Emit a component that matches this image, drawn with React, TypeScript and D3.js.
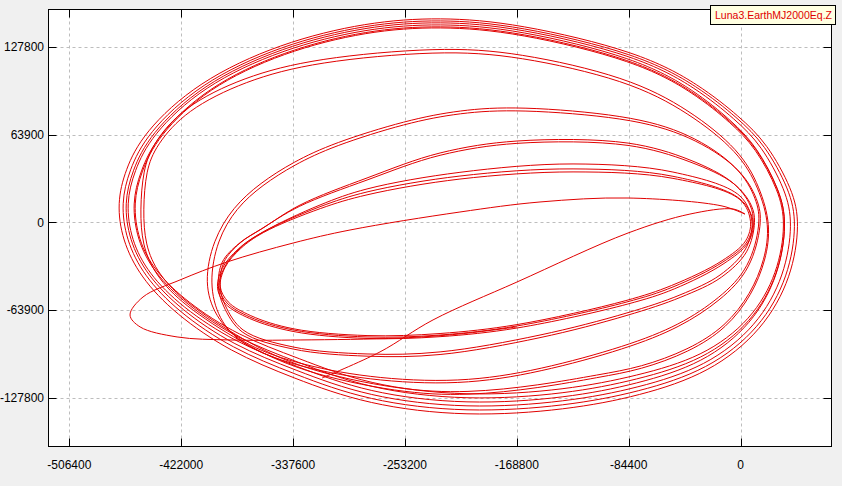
import { useEffect, useRef } from "react";
import * as d3 from "d3";

// points are [EarthMJ2000Eq.Y, EarthMJ2000Eq.Z] in thousands of km
type Pt = [number, number];

const xTicks = [-506400, -422000, -337600, -253200, -168800, -84400, 0];
const yTicks = [-127800, -63900, 0, 63900, 127800];
const legendLabel = "Luna3.EarthMJ2000Eq.Z";

// outer family of orbits
const outer1: Pt[] = [
  [-470.4, 14.1], [-466.6, -12.9], [-453.0, -39.8], [-426.6, -66.8], [-385.1, -94.4], [-337.6, -113.4],
  [-281.8, -133.0], [-206.4, -141.8], [-130.9, -136.7], [-75.9, -126.5], [-23.1, -109.7], [16.9, -78.4],
  [38.8, -39.8], [44.8, -0.5], [39.5, 23.5], [19.9, 57.7], [-0.5, 76.7], [-30.6, 100.0],
  [-75.9, 124.0], [-168.7, 145.1], [-226.7, 149.5], [-281.8, 145.9], [-347.4, 130.6], [-410.0, 102.2],
  [-450.8, 65.0], [-464.3, 38.1],
];
const outer2: Pt[] = [
  [-467.4, 14.1], [-463.6, -12.9], [-450.3, -38.9], [-424.5, -65.1], [-383.6, -92.1], [-336.7, -110.5],
  [-281.8, -130.1], [-206.4, -138.9], [-130.9, -133.8], [-76.4, -123.6], [-24.3, -107.4], [15.1, -77.0],
  [36.5, -39.2], [42.5, -0.5], [37.2, 23.4], [18.1, 57.0], [-1.9, 75.7], [-31.5, 98.7],
  [-76.4, 122.5], [-168.7, 143.6], [-226.7, 148.0], [-281.8, 144.4], [-346.8, 129.1], [-408.2, 101.2],
  [-448.1, 64.4], [-461.3, 37.8],
];
const outer3: Pt[] = [
  [-465.1, 14.1], [-461.3, -12.9], [-448.2, -38.1], [-422.9, -63.3], [-382.5, -89.8], [-336.0, -107.6],
  [-281.8, -127.2], [-206.4, -136.0], [-130.9, -130.9], [-77.0, -120.7], [-25.8, -105.1], [12.7, -75.5],
  [33.5, -38.6], [39.5, -0.5], [34.2, 23.2], [15.7, 56.3], [-3.7, 74.7], [-32.7, 97.4],
  [-77.0, 121.1], [-168.7, 142.2], [-226.7, 146.6], [-281.8, 143.0], [-346.3, 127.7], [-406.8, 100.2],
  [-446.0, 63.8], [-459.0, 37.5],
];
const outer4: Pt[] = [
  [-463.6, 14.1], [-459.8, -12.9], [-446.9, -37.2], [-421.8, -61.6], [-381.7, -87.4], [-335.6, -104.7],
  [-281.8, -124.3], [-206.4, -133.1], [-130.9, -128.0], [-77.9, -117.8], [-28.0, -102.7], [9.1, -74.1],
  [29.0, -38.1], [35.0, -0.5], [29.7, 23.1], [12.1, 55.5], [-6.4, 73.6], [-34.5, 96.0],
  [-77.9, 119.6], [-168.7, 140.7], [-226.7, 145.1], [-281.8, 141.5], [-346.0, 126.2], [-405.9, 99.1],
  [-444.7, 63.2], [-457.5, 37.2],
];
const outer5: Pt[] = [
  [-459.1, 14.1], [-455.3, -12.9], [-442.8, -36.3], [-418.7, -59.8], [-379.5, -85.0], [-334.2, -101.7],
  [-281.8, -121.3], [-206.4, -130.1], [-130.9, -125.0], [-77.9, -114.8], [-28.0, -100.3], [9.1, -72.6],
  [29.0, -37.5], [35.0, -0.5], [29.7, 22.9], [12.1, 54.8], [-6.4, 72.6], [-34.5, 94.8],
  [-77.9, 118.2], [-168.7, 139.3], [-226.7, 143.7], [-281.8, 140.1], [-345.1, 124.8], [-403.2, 98.1],
  [-440.6, 62.7], [-453.0, 36.9],
];
const outer6: Pt[] = [
  [-458.3, 14.1], [-454.5, -12.9], [-442.1, -35.4], [-418.1, -58.0], [-379.1, -82.7], [-334.0, -98.8],
  [-281.8, -118.4], [-206.4, -127.2], [-130.9, -122.1], [-78.0, -111.9], [-28.4, -98.0], [8.4, -71.1],
  [28.2, -36.9], [34.2, -0.5], [28.9, 22.8], [11.4, 54.4], [-6.9, 72.1], [-34.8, 94.1],
  [-78.0, 117.4], [-168.7, 138.5], [-226.7, 142.9], [-281.8, 139.3], [-345.0, 124.0], [-402.7, 97.6],
  [-439.9, 62.4], [-452.2, 36.8],
];
const outer7a: Pt[] = [
  [-453.0, 9.0], [-451.5, -16.5], [-441.7, -38.4], [-420.6, -60.2], [-377.6, -87.2], [-332.3, -109.0],
  [-256.9, -124.3], [-206.4, -126.5], [-151.3, -120.7], [-106.1, -112.7], [-75.9, -107.6], [-38.2, -94.4],
  [-10.3, -77.0], [8.6, -52.9], [19.2, -27.5], [22.9, -2.0], [14.6, 25.7], [-0.5, 52.6],
  [-38.2, 81.8], [-84.9, 105.8], [-168.7, 124.0], [-226.7, 127.7], [-321.0, 119.6], [-375.3, 105.8],
  [-420.6, 84.0], [-443.2, 57.7], [-450.8, 38.1],
];
const outer7b: Pt[] = [
  [-450.8, 9.0], [-449.3, -16.5], [-439.7, -37.6], [-418.8, -58.6], [-376.2, -85.4], [-331.3, -107.2],
  [-256.9, -122.3], [-206.4, -124.5], [-151.3, -118.7], [-106.1, -110.8], [-75.9, -105.8], [-38.9, -92.8],
  [-11.0, -75.6], [7.8, -52.0], [18.4, -27.0], [22.1, -2.0], [13.8, 25.0], [-1.3, 51.2],
  [-38.9, 79.8], [-84.9, 103.4], [-168.7, 121.5], [-226.7, 125.2], [-321.0, 117.0], [-374.0, 103.0],
  [-418.6, 81.5], [-441.0, 56.0], [-448.6, 37.8],
];

// middle orbits
const middle2a: Pt[] = [
  [15.4, 0.2], [7.1, -33.3], [-15.5, -55.1], [-45.7, -74.8], [-85.7, -90.1], [-151.3, -107.6],
  [-211.7, -117.0], [-281.8, -113.4], [-337.6, -102.5], [-377.6, -87.9], [-396.5, -69.0], [-404.8, -44.2],
  [-398.0, -12.9], [-382.9, 11.1], [-362.5, 28.6], [-337.6, 43.9], [-307.5, 57.7], [-251.6, 74.5],
  [-211.7, 81.8], [-168.7, 84.7], [-84.9, 78.1], [-38.2, 65.0], [-0.5, 40.3], [12.4, 16.2],
];
const middle2b: Pt[] = [
  [16.5, 0.2], [8.0, -34.5], [-15.0, -57.0], [-45.5, -76.5], [-85.7, -92.0], [-151.3, -109.4],
  [-211.7, -118.8], [-281.8, -115.2], [-337.6, -104.3], [-377.0, -89.5], [-394.0, -70.5], [-401.0, -44.5],
  [-395.0, -13.0], [-380.5, 10.5], [-361.0, 27.0], [-337.0, 41.8], [-307.5, 55.5], [-251.6, 72.5],
  [-211.7, 79.8], [-168.7, 82.5], [-84.9, 76.3], [-38.2, 63.5], [0.5, 39.5], [13.5, 16.0],
];
const middle1a: Pt[] = [
  [9.4, 0.2], [3.3, -20.2], [-15.5, -38.4], [-45.7, -52.9], [-85.7, -66.0], [-151.3, -82.1],
  [-226.7, -94.4], [-281.8, -95.9], [-337.6, -90.8], [-375.3, -78.4], [-388.9, -60.2], [-392.7, -45.7],
  [-389.7, -28.9], [-377.6, -15.1], [-360.3, -4.2], [-332.3, 12.6], [-281.8, 32.3], [-226.7, 50.5],
  [-168.7, 59.2], [-84.9, 57.7], [-38.2, 45.4], [-5.7, 28.6], [7.1, 12.6],
];
const middle1b: Pt[] = [
  [10.5, 0.0], [4.5, -21.5], [-14.5, -40.0], [-45.0, -54.5], [-85.7, -67.8], [-151.3, -84.0],
  [-226.7, -96.3], [-281.8, -97.5], [-337.6, -92.3], [-376.0, -79.8], [-390.0, -61.0], [-394.0, -46.0],
  [-391.0, -29.0], [-378.5, -15.5], [-361.5, -4.8], [-333.0, 11.5], [-281.8, 30.8], [-226.7, 48.8],
  [-168.7, 57.5], [-84.9, 56.0], [-38.2, 44.0], [-5.0, 28.0], [8.0, 12.5],
];

// inner orbits
const inner1: Pt[] = [
  [8.6, 0.2], [4.8, -14.3], [-13.3, -28.9], [-51.0, -47.1], [-85.7, -58.0], [-168.7, -75.5],
  [-226.7, -82.1], [-281.8, -83.5], [-337.6, -78.4], [-370.1, -69.0], [-387.4, -58.8], [-393.4, -47.8],
  [-389.7, -33.3], [-377.6, -18.7], [-360.3, -7.1], [-317.3, 12.6], [-281.8, 24.3], [-211.7, 36.4],
  [-126.4, 42.5], [-51.0, 36.6], [-0.5, 19.2],
];
const inner2: Pt[] = [
  [9.5, 0.0], [5.5, -15.0], [-12.5, -30.0], [-50.0, -48.5], [-85.0, -59.5], [-168.7, -77.0],
  [-226.7, -83.3], [-281.8, -84.6], [-337.6, -79.5], [-370.5, -70.0], [-388.5, -59.5], [-394.5, -48.5],
  [-391.0, -33.5], [-379.0, -19.5], [-362.0, -8.0], [-318.0, 11.1], [-281.8, 22.1], [-211.7, 33.7],
  [-126.4, 38.9], [-51.0, 33.5], [-0.5, 17.0],
];
const inner3: Pt[] = [
  [7.5, 0.5], [3.8, -13.5], [-14.0, -28.0], [-52.0, -46.0], [-86.5, -57.0], [-168.7, -74.5],
  [-226.7, -81.0], [-281.8, -82.5], [-337.6, -77.5], [-369.5, -68.0], [-386.5, -58.0], [-392.5, -47.0],
  [-389.0, -33.0], [-377.0, -19.0], [-360.0, -7.5], [-317.0, 10.0], [-281.8, 20.0], [-211.7, 31.5],
  [-126.4, 36.7], [-51.0, 32.0], [-0.5, 16.5],
];

// transfer leg: arc to perigee, then the long thin ellipse
const transfer: Pt[] = [
  [-315.7, -113.4], [-272.0, -94.4], [-232.0, -71.1], [-168.7, -43.5], [-84.9, -7.8], [-38.2, 6.0],
  [-5.7, 9.7], [3.3, 6.0], [-14.0, 11.9], [-84.9, 17.7], [-151.3, 14.8], [-211.7, 7.5],
  [-294.6, -5.6], [-337.6, -15.1], [-387.4, -28.9], [-422.9, -42.0], [-450.8, -54.4], [-460.6, -67.5],
  [-453.0, -76.2], [-425.1, -83.5], [-385.1, -85.7], [-332.3, -85.7], [-256.9, -84.3], [-211.7, -81.3],
  [-168.7, -76.2],
];

// wide loops are smoothed with a B-spline, tight ones pass through every point
const wideLoops: Pt[][] = [outer1, outer2, outer3, outer4, outer5, outer6, outer7a, outer7b, middle2a, middle2b];
const tightLoops: Pt[][] = [middle1a, middle1b, inner1, inner2, inner3];

const W = 842;
const H = 486;
const frame = { left: 48.5, top: 9.5, right: 831.5, bottom: 446.5 };
const red = "#e00000";
const font = "'Liberation Sans', Arial, sans-serif";

const App: React.FC = () => {
  const svgRef = useRef<SVGSVGElement | null>(null);

  useEffect(() => {
    if (!svgRef.current) return;
    const svg = d3.select(svgRef.current);
    svg.selectAll("*").remove();

    const x = d3.scaleLinear().domain([-522100, 68600]).range([frame.left, frame.right]);
    const y = d3.scaleLinear().domain([-163300, 155000]).range([frame.bottom, frame.top]);

    svg
      .append("rect")
      .attr("x", frame.left)
      .attr("y", frame.top)
      .attr("width", frame.right - frame.left)
      .attr("height", frame.bottom - frame.top)
      .attr("fill", "#fff");

    // dashed grid
    const grid = svg.append("g").attr("stroke", "#bdbdbd").attr("stroke-dasharray", "3,3");
    xTicks.forEach((t) => {
      const px = Math.round(x(t)) + 0.5;
      grid.append("line").attr("x1", px).attr("x2", px).attr("y1", frame.top).attr("y2", frame.bottom);
    });
    yTicks.forEach((t) => {
      const py = Math.round(y(t)) + 0.5;
      grid.append("line").attr("x1", frame.left).attr("x2", frame.right).attr("y1", py).attr("y2", py);
    });

    svg
      .append("clipPath")
      .attr("id", "plot-clip")
      .append("rect")
      .attr("x", frame.left)
      .attr("y", frame.top)
      .attr("width", frame.right - frame.left)
      .attr("height", frame.bottom - frame.top);

    const curves = svg
      .append("g")
      .attr("clip-path", "url(#plot-clip)")
      .attr("fill", "none")
      .attr("stroke", red)
      .attr("stroke-width", 1);

    const px = (d: Pt) => x(d[0] * 1000);
    const py = (d: Pt) => y(d[1] * 1000);

    const smoothLine = d3.line<Pt>().x(px).y(py).curve(d3.curveBasisClosed);
    const closedLine = d3.line<Pt>().x(px).y(py).curve(d3.curveCatmullRomClosed.alpha(0.5));
    const openLine = d3.line<Pt>().x(px).y(py).curve(d3.curveCatmullRom.alpha(0.5));

    wideLoops.forEach((loop) => {
      curves.append("path").datum(loop).attr("d", smoothLine);
    });
    tightLoops.forEach((loop) => {
      curves.append("path").datum(loop).attr("d", closedLine);
    });
    curves.append("path").datum(transfer).attr("d", openLine);

    // frame
    svg
      .append("rect")
      .attr("x", frame.left)
      .attr("y", frame.top)
      .attr("width", frame.right - frame.left)
      .attr("height", frame.bottom - frame.top)
      .attr("fill", "none")
      .attr("stroke", "#000");

    // inward ticks on all four sides
    const tickLen = 8;
    const ticks = svg.append("g").attr("stroke", "#000");
    xTicks.forEach((t) => {
      const tx = Math.round(x(t)) + 0.5;
      ticks.append("line").attr("x1", tx).attr("x2", tx).attr("y1", frame.bottom).attr("y2", frame.bottom - tickLen);
      ticks.append("line").attr("x1", tx).attr("x2", tx).attr("y1", frame.top).attr("y2", frame.top + tickLen);
    });
    yTicks.forEach((t) => {
      const ty = Math.round(y(t)) + 0.5;
      ticks.append("line").attr("x1", frame.left).attr("x2", frame.left + tickLen).attr("y1", ty).attr("y2", ty);
      ticks.append("line").attr("x1", frame.right).attr("x2", frame.right - tickLen).attr("y1", ty).attr("y2", ty);
    });

    // tick labels
    const labels = svg.append("g").attr("font-family", font).attr("font-size", 12).attr("fill", "#000");
    xTicks.forEach((t) => {
      labels
        .append("text")
        .attr("x", x(t))
        .attr("y", 469)
        .attr("text-anchor", "middle")
        .text(String(t));
    });
    yTicks.forEach((t) => {
      labels
        .append("text")
        .attr("x", 44)
        .attr("y", y(t))
        .attr("dy", "0.35em")
        .attr("text-anchor", "end")
        .text(String(t));
    });

    // legend
    const legend = svg.append("g");
    legend
      .append("rect")
      .attr("x", 710.5)
      .attr("y", 5.5)
      .attr("width", 125)
      .attr("height", 19)
      .attr("fill", "#ffffe1")
      .attr("stroke", "#000");
    legend
      .append("text")
      .attr("x", 715)
      .attr("y", 19.3)
      .attr("font-family", font)
      .attr("font-size", 11)
      .attr("fill", red)
      .attr("textLength", 117)
      .attr("lengthAdjust", "spacingAndGlyphs")
      .text(legendLabel);
  }, []);

  return (
    <div style={{ position: "fixed", left: 0, top: 0, width: W, height: H, background: "#f0f0f0" }}>
      <svg ref={svgRef} width={W} height={H} style={{ display: "block" }}></svg>
    </div>
  );
};

export default App;
